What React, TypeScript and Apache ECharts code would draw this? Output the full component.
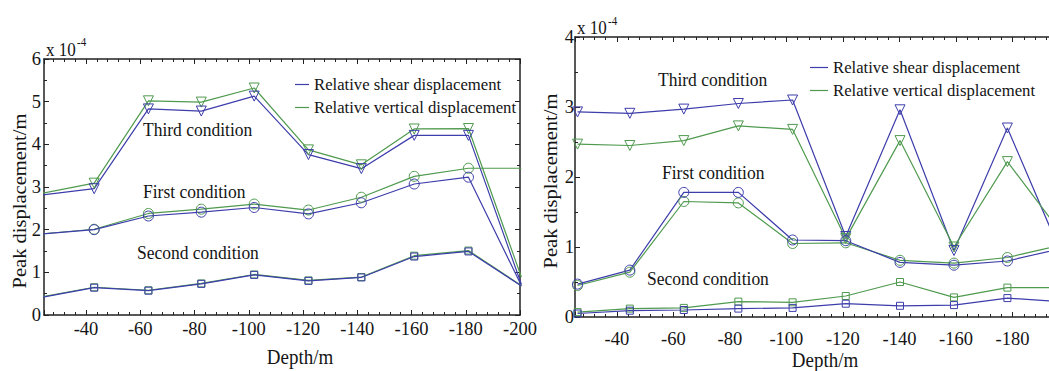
import React, { useEffect, useRef } from "react";
import * as echarts from "echarts";

// Depths (m) at which values were sampled; first/last fall just outside the axis range and are clipped
const leftDepths = [-23.4, -43, -63, -82.5, -102, -122, -141.5, -161, -181, -200.5];
const rightDepths = [-26.1, -44.6, -63.7, -83, -102.2, -121, -140.2, -159.3, -178.2, -197.3];

// Left panel (x 10^-4 m)
const leftThirdShear = [2.81, 2.96, 4.83, 4.78, 5.13, 3.76, 3.43, 4.21, 4.21, 0.72];
const leftThirdVertical = [2.85, 3.09, 5.02, 4.99, 5.32, 3.87, 3.52, 4.36, 4.37, 0.89];
const leftFirstShear = [1.9, 2.0, 2.32, 2.41, 2.52, 2.37, 2.63, 3.07, 3.23, 0.69];
const leftFirstVertical = [1.9, 2.01, 2.38, 2.48, 2.6, 2.46, 2.76, 3.25, 3.44, 3.44];
const leftSecondShear = [0.41, 0.64, 0.57, 0.73, 0.94, 0.8, 0.88, 1.37, 1.49, 0.68];
const leftSecondVertical = [0.42, 0.65, 0.58, 0.74, 0.95, 0.81, 0.89, 1.39, 1.51, 0.69];

// Right panel (x 10^-4 m)
const rightThirdShear = [2.93, 2.91, 2.97, 3.05, 3.1, 1.15, 2.96, 0.95, 2.7, 0.9];
const rightThirdVertical = [2.47, 2.45, 2.52, 2.73, 2.68, 1.12, 2.52, 1.0, 2.22, 1.2];
const rightFirstShear = [0.47, 0.67, 1.78, 1.78, 1.1, 1.09, 0.78, 0.74, 0.8, 0.98];
const rightFirstVertical = [0.45, 0.64, 1.65, 1.63, 1.05, 1.06, 0.81, 0.77, 0.85, 1.03];
const rightSecondShear = [0.05, 0.09, 0.1, 0.12, 0.13, 0.19, 0.16, 0.17, 0.27, 0.22];
const rightSecondVertical = [0.07, 0.12, 0.13, 0.22, 0.21, 0.3, 0.5, 0.28, 0.42, 0.42];

const SHEAR = "Relative shear displacement";
const VERTICAL = "Relative vertical displacement";
const conditionLabels = ["Third condition", "First condition", "Second condition"];
const yAxisTitle = "Peak displacement/m";
const xAxisTitle = "Depth/m";

const BLUE = "#3d3dab";
const GREEN = "#4f9a4f";
const FONT = "'Liberation Serif', 'Times New Roman', serif";
const INK = "#141414";

function mk(name: string, color: string, xs: number[], ys: number[], symbol: string, size: number, rotate: number, xi: number, yi: number) {
  return {
    type: "line",
    name,
    xAxisIndex: xi,
    yAxisIndex: yi,
    data: xs.map((x, i) => [x, ys[i]]),
    symbol,
    symbolSize: size,
    symbolRotate: rotate,
    showAllSymbol: true,
    clip: true,
    silent: true,
    lineStyle: { color, width: 1.2 },
    itemStyle: { color: "rgba(0,0,0,0)", borderColor: color, borderWidth: 1 },
    emphasis: { disabled: true },
  };
}

function xAx(grid: number, pos: string, max: number, showLabel: boolean, margin: number, hideMin: boolean) {
  return {
    type: "value",
    gridIndex: grid,
    position: pos,
    inverse: true,
    min: -200,
    max,
    interval: 20,
    splitLine: { show: false },
    axisLine: { show: true, onZero: false, lineStyle: { color: "#222", width: 1.5 } },
    axisTick: { show: true, inside: true, length: 5, lineStyle: { color: "#222", width: 1 } },
    minorTick: { show: true, splitNumber: 5, length: 3, lineStyle: { color: "#222", width: 1 } },
    axisLabel: {
      show: showLabel,
      margin,
      fontSize: 18.5,
      fontFamily: FONT,
      color: INK,
      formatter: (v: number) => {
        if (hideMin && v <= -200) return "";
        return Math.abs(v % 20) < 1e-6 ? String(v) : "";
      },
    },
  };
}

function yAx(grid: number, pos: string, max: number, showLabel: boolean, margin: number) {
  return {
    type: "value",
    gridIndex: grid,
    position: pos,
    min: 0,
    max,
    interval: 1,
    splitLine: { show: false },
    axisLine: { show: true, onZero: false, lineStyle: { color: "#222", width: 1.5 } },
    axisTick: { show: true, inside: true, length: 5, lineStyle: { color: "#222", width: 1 } },
    minorTick: { show: true, splitNumber: 2, length: 3, lineStyle: { color: "#222", width: 1 } },
    axisLabel: { show: showLabel, margin, fontSize: 18.5, fontFamily: FONT, color: INK },
  };
}

function txt(text: string, x: number, y: number, size: number, align = "left", rotation = 0) {
  const rotated = rotation !== 0;
  return {
    type: "text",
    x,
    y,
    rotation,
    scaleX: rotated ? 1.08 : 1,
    scaleY: rotated ? 1 : 1.1,
    silent: true,
    style: {
      text,
      fontSize: size,
      fontFamily: FONT,
      fill: INK,
      align,
      verticalAlign: "middle",
    },
  };
}

export default function App() {
  const ref = useRef<HTMLDivElement>(null);
  useEffect(() => {
    if (!ref.current) return;
    const chart = echarts.init(ref.current, undefined, { renderer: "svg" });
    const legendCommon = {
      orient: "vertical",
      icon: "rect",
      itemHeight: 1.2,
      itemGap: 6,
      selectedMode: false,
      textStyle: { fontSize: 16.7, fontFamily: FONT, color: INK },
      data: [
        { name: SHEAR, itemStyle: { color: BLUE, borderWidth: 0 } },
        { name: VERTICAL, itemStyle: { color: GREEN, borderWidth: 0 } },
      ],
    };
    chart.setOption({
      animation: false,
      backgroundColor: "#ffffff",
      grid: [
        { left: 44, top: 59, width: 476, height: 256 },
        { left: 575, top: 37, width: 495.8, height: 280 },
      ],
      xAxis: [
        xAx(0, "bottom", -24.5, true, 4, false),
        xAx(0, "top", -24.5, false, 4, false),
        xAx(1, "bottom", -25.2, true, 12, true),
        xAx(1, "top", -25.2, false, 4, true),
      ],
      yAxis: [yAx(0, "left", 6, true, 3), yAx(0, "right", 6, false, 3), yAx(1, "left", 4, true, 1)],
      legend: [
        { ...legendCommon, left: 290, top: 71, itemWidth: 14 },
        { ...legendCommon, left: 805, top: 54, itemWidth: 18 },
      ],
      series: [
        mk(VERTICAL, GREEN, leftDepths, leftThirdVertical, "triangle", 10, 180, 0, 0),
        mk(SHEAR, BLUE, leftDepths, leftThirdShear, "triangle", 10, 180, 0, 0),
        mk(VERTICAL, GREEN, leftDepths, leftFirstVertical, "circle", 10, 0, 0, 0),
        mk(SHEAR, BLUE, leftDepths, leftFirstShear, "circle", 10, 0, 0, 0),
        mk(VERTICAL, GREEN, leftDepths, leftSecondVertical, "rect", 7, 0, 0, 0),
        mk(SHEAR, BLUE, leftDepths, leftSecondShear, "rect", 7, 0, 0, 0),
        mk(SHEAR, BLUE, rightDepths, rightThirdShear, "triangle", 10, 180, 2, 2),
        mk(VERTICAL, GREEN, rightDepths, rightThirdVertical, "triangle", 10, 180, 2, 2),
        mk(VERTICAL, GREEN, rightDepths, rightFirstVertical, "circle", 10, 0, 2, 2),
        mk(SHEAR, BLUE, rightDepths, rightFirstShear, "circle", 10, 0, 2, 2),
        mk(VERTICAL, GREEN, rightDepths, rightSecondVertical, "rect", 7, 0, 2, 2),
        mk(SHEAR, BLUE, rightDepths, rightSecondShear, "rect", 7, 0, 2, 2),
      ],
      graphic: [
        txt("x 10", 46, 50, 17),
        txt("-4", 77, 42, 11),
        txt("x 10", 577, 28, 17),
        txt("-4", 608, 21, 11),
        txt(yAxisTitle, 19, 201, 19, "center", Math.PI / 2),
        txt(yAxisTitle, 550, 181, 19, "center", Math.PI / 2),
        txt(xAxisTitle, 300, 357, 19, "center"),
        txt(xAxisTitle, 825, 360, 19, "center"),
        txt(conditionLabels[0], 143, 130, 17.5),
        txt(conditionLabels[1], 143, 192, 17.5),
        txt(conditionLabels[2], 137, 253, 17.5),
        txt(conditionLabels[0], 658, 80, 17.5),
        txt(conditionLabels[1], 662, 173, 17.5),
        txt(conditionLabels[2], 647, 279, 17.5),
      ],
    });
    return () => chart.dispose();
  }, []);
  return (
    <div style={{ position: "fixed", left: 0, top: 0, width: 1049, height: 371, overflow: "hidden", background: "#fff" }}>
      <div ref={ref} style={{ width: 1072, height: 371 }} />
    </div>
  );
}
